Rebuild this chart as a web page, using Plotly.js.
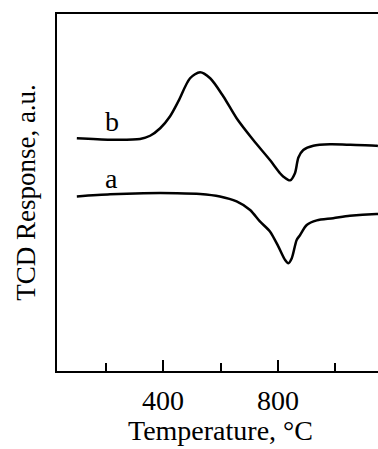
<!DOCTYPE html>
<html>
<head>
<meta charset="utf-8">
<script src="https://cdn.plot.ly/plotly-3.0.1.min.js"></script>
<style>html,body{margin:0;padding:0;background:#fff;}#chart{width:378px;height:449px;}</style>
</head>
<body>
<div id="chart"></div>
<script>
// Curve b (upper)
const tempB = [100, 216, 320, 355, 390, 424, 453, 494, 529, 564, 610, 656, 714, 772, 807, 818, 842, 859, 871, 888, 923, 981, 1039, 1143, 1148];
const respB = [6.52, 6.48, 6.50, 6.59, 6.80, 7.13, 7.55, 8.20, 8.37, 8.20, 7.69, 7.08, 6.47, 5.91, 5.54, 5.45, 5.34, 5.54, 5.98, 6.19, 6.31, 6.35, 6.34, 6.31, 6.30];
// Curve a (lower)
const tempA = [100, 216, 332, 448, 529, 598, 656, 703, 737, 772, 801, 824, 836, 848, 865, 877, 900, 935, 992, 1050, 1143, 1148];
const respA = [4.89, 4.95, 4.98, 4.98, 4.96, 4.89, 4.75, 4.51, 4.19, 3.91, 3.49, 3.12, 3.02, 3.16, 3.67, 3.81, 4.09, 4.22, 4.28, 4.35, 4.40, 4.40];
const curveLabels = ['b', 'a'];
const labelTemp = [222, 222];
const labelResp = [6.98, 5.40];
const xTitle = 'Temperature, °C';
const yTitle = 'TCD Response, a.u.';

const font = 'Liberation Serif, Times New Roman, serif';
const lineStyle = {color: '#000', width: 2.5, shape: 'spline', smoothing: 0.8};

const data = [
  {x: tempB, y: respB, mode: 'lines', line: lineStyle, hoverinfo: 'skip'},
  {x: tempA, y: respA, mode: 'lines', line: lineStyle, hoverinfo: 'skip'}
];

const annotations = curveLabels.map((t, i) => ({
  x: labelTemp[i], y: labelResp[i], xref: 'x', yref: 'y',
  text: t, showarrow: false, xanchor: 'center', yanchor: 'middle',
  font: {family: font, size: 28, color: '#000'}
}));
annotations.push({
  x: 0.51, y: -0.2165, xref: 'paper', yref: 'paper',
  text: xTitle, showarrow: false, xanchor: 'center', yanchor: 'bottom',
  font: {family: font, size: 28, color: '#000'}
});

const layout = {
  width: 378, height: 449,
  margin: {l: 57, r: 0, t: 14, b: 78},
  paper_bgcolor: '#fff', plot_bgcolor: '#fff',
  showlegend: false,
  font: {family: font, color: '#000', size: 28},
  xaxis: {
    range: [31, 1148],
    tick0: 0, dtick: 400,
    ticks: 'inside', ticklen: 11, tickwidth: 2, tickcolor: '#000',
    minor: {dtick: 200, tick0: 0, ticks: 'inside', ticklen: 8, tickwidth: 2, tickcolor: '#000', showgrid: false},
    showline: true, linecolor: '#000', linewidth: 2, mirror: true,
    showgrid: false, zeroline: false,
    ticklabelstandoff: 3,
    tickfont: {family: font, size: 28, color: '#000'}
  },
  yaxis: {
    range: [0, 10],
    showticklabels: false, ticks: '',
    showline: true, linecolor: '#000', linewidth: 2, mirror: false,
    showgrid: false, zeroline: false,
    title: {text: yTitle, font: {family: font, size: 27, color: '#000'}, standoff: 12}
  },
  annotations: annotations
};

Plotly.newPlot('chart', data, layout, {staticPlot: true, displayModeBar: false});
</script>
</body>
</html>
